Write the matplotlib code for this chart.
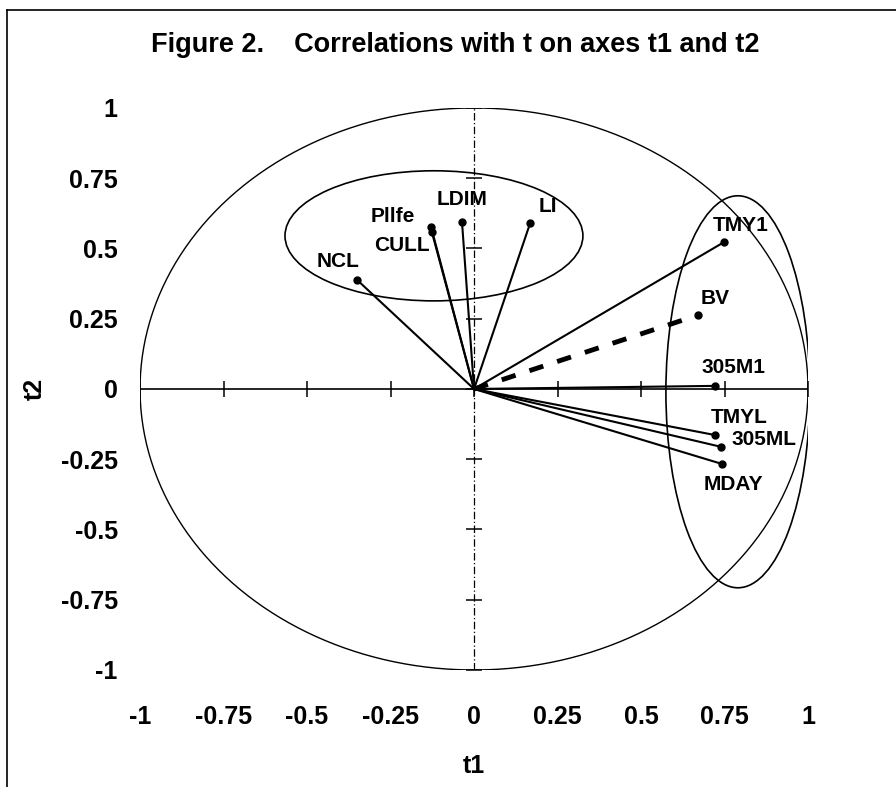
import numpy as np
import matplotlib.pyplot as plt
from matplotlib.patches import Ellipse
from matplotlib.lines import Line2D

plt.rcParams['font.family'] = ['Liberation Sans', 'DejaVu Sans']
plt.rcParams['font.weight'] = 'bold'

# correlations of each variable with t1 and t2
names = ['NCL', 'Pllfe', 'CULL', 'LDIM', 'LI', 'TMY1', 'BV', '305M1', 'TMYL', '305ML', 'MDAY']
t1 = [-0.35, -0.13, -0.125, -0.036, 0.168, 0.749, 0.671, 0.722, 0.722, 0.740, 0.743]
t2 = [0.388, 0.575, 0.560, 0.594, 0.590, 0.523, 0.263, 0.011, -0.164, -0.206, -0.267]
# label offsets in points (dx, dy)
offsets = {'NCL': (-14, 13), 'Pllfe': (-27, 8), 'CULL': (-22, -10), 'LDIM': (0, 16),
           'LI': (13, 12), 'TMY1': (12, 12), 'BV': (12, 12), '305M1': (13, 13),
           'TMYL': (17, 13), '305ML': (31, 5), 'MDAY': (8, -15)}
ticks = [-1, -0.75, -0.5, -0.25, 0, 0.25, 0.5, 0.75, 1]
tick_labels = ['-1', '-0.75', '-0.5', '-0.25', '0', '0.25', '0.5', '0.75', '1']

fig = plt.figure(figsize=(8.96, 7.87), dpi=100)
ax = fig.add_axes([0.1563, 0.1487, 0.7455, 0.7141])
ax.set_xlim(-1, 1)
ax.set_ylim(-1, 1)
for s in ax.spines.values():
    s.set_visible(False)

# axes through the origin with cross ticks
ax.axhline(0, color='black', lw=1.2)
ax.axvline(0, color='black', lw=0.9, ls=(0, (6, 2, 1, 2)))
ax.plot(ticks, np.zeros(len(ticks)), ls='none', marker='|', ms=12, mew=1.1, color='black')
ax.plot(np.zeros(len(ticks)), ticks, ls='none', marker='_', ms=12, mew=1.1, color='black')

# unit circle
th = np.linspace(0, 2 * np.pi, 400)
ax.plot(np.cos(th), np.sin(th), color='black', lw=1.0)

# group ellipses
ax.add_patch(Ellipse((-0.12, 0.545), 0.892, 0.463, fill=False, ec='black', lw=1.2))
ax.add_patch(Ellipse((0.79, -0.01), 0.431, 1.395, fill=False, ec='black', lw=1.2))

for n, x, y in zip(names, t1, t2):
    if n == 'BV':
        ax.plot([0, x], [0, y], color='black', lw=3.5, ls=(0, (3, 3)))
    else:
        ax.plot([0, x], [0, y], color='black', lw=1.5)
    ax.plot(x, y, 'o', color='black', ms=5)
    dx, dy = offsets[n]
    ax.annotate(n, (x, y), xytext=(dx, dy), textcoords='offset points',
                ha='center', va='center', fontsize=15, fontweight='bold')

ax.set_xticks(ticks, tick_labels)
ax.set_yticks(ticks, tick_labels)
ax.tick_params(axis='x', length=0, pad=25, labelsize=18)
ax.tick_params(axis='y', length=0, pad=16, labelsize=18)
ax.set_xlabel('t1', fontsize=18, fontweight='bold', labelpad=18)
ax.set_ylabel('t2', fontsize=18, fontweight='bold', labelpad=10)

fig.text(0.508, 0.943, 'Figure 2.    Correlations with t on axes t1 and t2',
         ha='center', va='center', fontsize=19.5, fontweight='bold')

# frame lines (top and left)
fig.add_artist(Line2D([7 / 896, 1], [1 - 10 / 787, 1 - 10 / 787], color='black', lw=1.2))
fig.add_artist(Line2D([7 / 896, 7 / 896], [0, 1 - 10 / 787], color='black', lw=1.2))

fig.savefig('out.png', dpi=100)
